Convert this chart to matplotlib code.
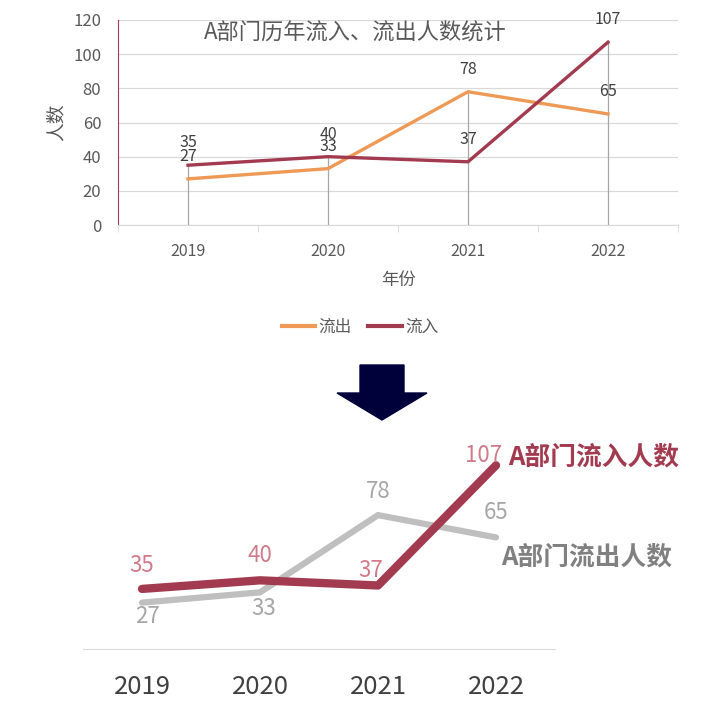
import matplotlib
matplotlib.use("Agg")
import matplotlib.pyplot as plt
from matplotlib.patches import Polygon
from matplotlib.lines import Line2D

plt.rcParams['font.family'] = ['Noto Sans CJK SC', 'DejaVu Sans']

years = ['2019', '2020', '2021', '2022']
outflow = [27, 33, 78, 65]
inflow = [35, 40, 37, 107]

ORANGE = '#EE9955'
RED = '#A33B50'
GRAY_TXT = '#595959'
GRID = '#D9D9D9'

W = H = 726.0


def box(l, t, r, b):
    # pixel box -> figure fraction rect
    return [l / W, 1 - b / H, (r - l) / W, (b - t) / H]


fig = plt.figure(figsize=(7.26, 7.26), dpi=100)
x = list(range(len(years)))

# ---------- top: the original excel-style chart ----------
ax1 = fig.add_axes(box(118, 20, 678, 225))
ax1.plot(x, outflow, color=ORANGE, lw=2.4, label='流出')
ax1.plot(x, inflow, color=RED, lw=2.4, label='流入')
ax1.vlines(x, 0, [max(a, b) for a, b in zip(outflow, inflow)],
           color='#A6A6A6', lw=0.9, zorder=1)
for i in x:
    for v in (outflow[i], inflow[i]):
        ax1.annotate(str(v), (i, v), xytext=(0, 16), textcoords='offset points',
                     ha='center', va='center', fontsize=11.5, color='#404040')
ax1.set_xlim(-0.5, 3.5)
ax1.set_ylim(0, 120)
ax1.set_yticks(range(0, 121, 20))
ax1.set_xticks(x)
ax1.set_xticklabels(years)
ax1.set_xticks([i - 0.5 for i in range(len(years) + 1)], minor=True)
ax1.tick_params(axis='y', length=0, labelsize=12, labelcolor=GRAY_TXT, pad=12)
ax1.tick_params(axis='x', which='major', length=0, labelsize=11.5, labelcolor=GRAY_TXT, pad=13)
ax1.tick_params(axis='x', which='minor', length=5, color=GRID)
ax1.grid(axis='y', color=GRID, lw=0.9)
ax1.set_axisbelow(True)
for s in ('top', 'right'):
    ax1.spines[s].set_visible(False)
ax1.spines['left'].set_color(RED)
ax1.spines['bottom'].set_color(GRID)

fig.text(355 / W, 1 - 33 / H, 'A部门历年流入、流出人数统计', fontsize=16,
         color=GRAY_TXT, ha='center', va='center')
fig.text(56 / W, 1 - 122 / H, '人数', fontsize=13.5, color=GRAY_TXT,
         rotation=90, ha='center', va='center')
fig.text(398 / W, 1 - 280 / H, '年份', fontsize=12.5, color=GRAY_TXT,
         ha='center', va='center')

handles = [Line2D([], [], color=ORANGE, lw=3), Line2D([], [], color=RED, lw=3)]
fig.legend(handles, ['流出', '流入'], loc='center', bbox_to_anchor=(360 / W, 1 - 327 / H),
           ncol=2, frameon=False, fontsize=12, labelcolor=GRAY_TXT,
           handlelength=2.0, handletextpad=0.2, columnspacing=1.0)

# ---------- arrow ----------
arrow = [(360, 365), (404, 365), (404, 393), (427, 393), (382, 420),
         (337, 393), (360, 393)]
fig.patches.append(Polygon([(px / W, 1 - py / H) for px, py in arrow], closed=True,
                           transform=fig.transFigure, color='#00003A'))

# ---------- bottom: the cleaned-up chart ----------
ax2 = fig.add_axes(box(83, 443, 555, 649))
ax2.plot(x, outflow, color='#BFBFBF', lw=4.5, solid_capstyle='round')
ax2.plot(x, inflow, color=RED, lw=6, solid_capstyle='round')

in_off = [(0, 17), (0, 18), (-5, 11), (-9, 7)]
out_off = [(4, -10), (3, -11.5), (0, 17), (0, 18)]
for i in x:
    ax2.annotate(str(inflow[i]), (i, inflow[i]), xytext=in_off[i], textcoords='offset points',
                 ha='center', va='center', fontsize=16, color='#D07A8A')
    ax2.annotate(str(outflow[i]), (i, outflow[i]), xytext=out_off[i], textcoords='offset points',
                 ha='center', va='center', fontsize=16, color='#A6A6A6')

ax2.annotate('A部门流入人数', (3, inflow[-1]), xytext=(9, 6), textcoords='offset points',
             ha='left', va='center', fontsize=18.5, weight='bold', color=RED)
ax2.annotate('A部门流出人数', (3, outflow[-1]), xytext=(4, -14), textcoords='offset points',
             ha='left', va='center', fontsize=18.5, weight='bold', color='#808080')

ax2.set_xlim(-0.5, 3.5)
ax2.set_ylim(0, 120)
ax2.set_xticks(x)
ax2.set_xticklabels(years)
ax2.set_yticks([])
ax2.tick_params(axis='x', length=0, labelsize=18.5, labelcolor='#404040', pad=18)
for s in ('top', 'right', 'left'):
    ax2.spines[s].set_visible(False)
ax2.spines['bottom'].set_color(GRID)
ax2.patch.set_alpha(0)

fig.savefig('out.png', dpi=100)
